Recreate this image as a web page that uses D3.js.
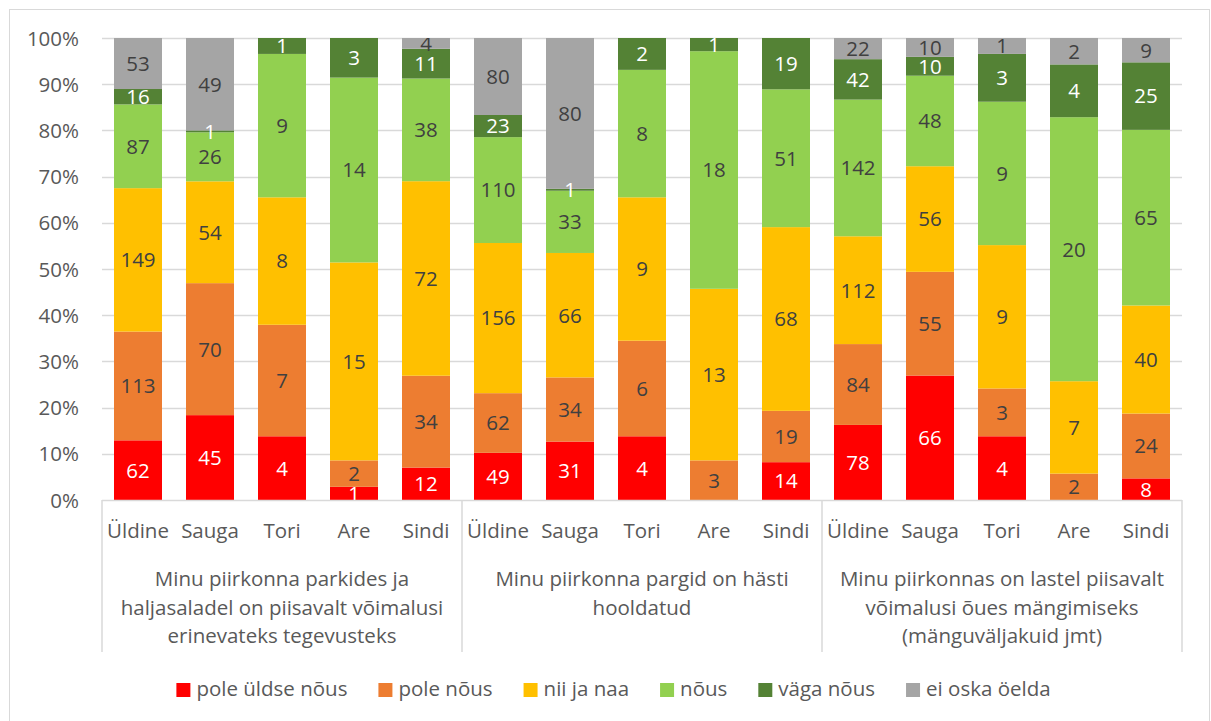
<!DOCTYPE html>
<html>
<head>
<meta charset="utf-8">
<script src="https://cdn.jsdelivr.net/npm/d3@7"></script>
<style>
  html, body { margin: 0; padding: 0; background: #fff; }
  svg { display: block; font-family: "Open Sans", sans-serif; }
</style>
</head>
<body>
<svg id="chart" width="1211" height="721"></svg>
<script>
// ---- data ----
const categories = ["Üldine","Sauga","Tori","Are","Sindi","Üldine","Sauga","Tori","Are","Sindi","Üldine","Sauga","Tori","Are","Sindi"];
const groupLabels = [
  ["Minu piirkonna parkides ja", "haljasaladel on piisavalt võimalusi", "erinevateks tegevusteks"],
  ["Minu piirkonna pargid on hästi", "hooldatud"],
  ["Minu piirkonnas on lastel piisavalt", "võimalusi õues mängimiseks", "(mänguväljakuid jmt)"]
];
const seriesNames = ["pole üldse nõus","pole nõus","nii ja naa","nõus","väga nõus","ei oska öelda"];
const poleYldseNous = [62,45,4,1,12, 49,31,4,0,14, 78,66,4,0,8];
const poleNous      = [113,70,7,2,34, 62,34,6,3,19, 84,55,3,2,24];
const niiJaNaa      = [149,54,8,15,72, 156,66,9,13,68, 112,56,9,7,40];
const nous          = [87,26,9,14,38, 110,33,8,18,51, 142,48,9,20,65];
const vagaNous      = [16,1,1,3,11, 23,1,2,1,19, 42,10,3,4,25];
const eiOskaOelda   = [53,49,0,0,4, 80,80,0,0,0, 22,10,1,2,9];
const yTicks = [0,0.1,0.2,0.3,0.4,0.5,0.6,0.7,0.8,0.9,1];

const seriesValues = [poleYldseNous, poleNous, niiJaNaa, nous, vagaNous, eiOskaOelda];
const colors = ["#FF0000","#ED7D31","#FFC000","#92D050","#548235","#A5A5A5"];
const labelColors = ["#ffffff","#404040","#404040","#404040","#ffffff","#404040"];
const FS = 20.5;

// ---- build table ----
const rows = categories.map((c, i) => {
  const r = { idx: i };
  seriesNames.forEach((s, k) => r[s] = seriesValues[k][i]);
  return r;
});
const stacked = d3.stack().keys(seriesNames).offset(d3.stackOffsetExpand)(rows);

const svg = d3.select("#chart");
const plot = { left: 102, right: 1182, top: 38, bottom: 500 };

// outer border
svg.append("rect").attr("x", 9.5).attr("y", 9.5).attr("width", 1200).attr("height", 720)
  .attr("fill", "none").attr("stroke", "#d9d9d9").attr("stroke-width", 1);

const x = d3.scaleBand().domain(d3.range(categories.length)).range([plot.left, plot.right])
  .paddingInner(1/3).paddingOuter(1/6);
const y = d3.scaleLinear().domain([0, 1]).range([plot.bottom, plot.top]);

// gridlines
svg.append("g").selectAll("line").data(yTicks.filter(t => t > 0)).join("line")
  .attr("x1", plot.left).attr("x2", plot.right)
  .attr("y1", d => Math.round(y(d)) + 0.5).attr("y2", d => Math.round(y(d)) + 0.5)
  .attr("stroke", "#d9d9d9").attr("stroke-width", 1.3);

// y axis labels
const yAxis = d3.axisLeft(y).tickValues(yTicks).tickFormat(d3.format(".0%")).tickSize(0).tickPadding(0);
const yg = svg.append("g").attr("transform", `translate(79,0)`).call(yAxis);
yg.select(".domain").remove();
yg.selectAll("text").attr("fill", "#595959").attr("font-size", FS)
  .attr("font-family", "Open Sans, sans-serif").attr("dy", "0.35em");

// bars
const barG = svg.append("g");
stacked.forEach((layer, k) => {
  barG.append("g").selectAll("rect").data(layer).join("rect")
    .attr("x", (d, i) => x(i))
    .attr("width", x.bandwidth())
    .attr("y", d => y(d[1]))
    .attr("height", d => y(d[0]) - y(d[1]))
    .attr("fill", colors[k]);
});

// clip for labels
svg.append("clipPath").attr("id", "plotclip").append("rect")
  .attr("x", plot.left).attr("y", plot.top).attr("width", plot.right - plot.left).attr("height", plot.bottom - plot.top);

const labG = svg.append("g").attr("clip-path", "url(#plotclip)");
stacked.forEach((layer, k) => {
  labG.append("g").selectAll("text").data(layer.filter((d, i) => seriesValues[k][d.data.idx] > 0)).join("text")
    .attr("x", d => x(d.data.idx) + x.bandwidth() / 2)
    .attr("y", d => (y(d[0]) + y(d[1])) / 2)
    .attr("dy", "0.36em")
    .attr("text-anchor", "middle")
    .attr("font-size", FS)
    .attr("fill", labelColors[k])
    .text(d => seriesValues[k][d.data.idx]);
});

// category axis
const axG = svg.append("g");
axG.append("line").attr("x1", plot.left).attr("x2", plot.right)
  .attr("y1", plot.bottom + 0.5).attr("y2", plot.bottom + 0.5)
  .attr("stroke", "#d9d9d9").attr("stroke-width", 1.5);
const sepIdx = [0, 5, 10, 15];
axG.selectAll("line.sep").data(sepIdx).join("line").attr("class", "sep")
  .attr("x1", d => d < 15 ? x(d) - x.step() * x.paddingInner() / 2 : plot.right)
  .attr("x2", d => d < 15 ? x(d) - x.step() * x.paddingInner() / 2 : plot.right)
  .attr("y1", plot.bottom).attr("y2", 652)
  .attr("stroke", "#d9d9d9").attr("stroke-width", 1.5);

axG.selectAll("text.cat").data(categories).join("text").attr("class", "cat")
  .attr("x", (d, i) => x(i) + x.bandwidth() / 2)
  .attr("y", 538)
  .attr("text-anchor", "middle")
  .attr("font-size", FS)
  .attr("fill", "#595959")
  .text(d => d);

groupLabels.forEach((lines, g) => {
  const cx = (x(g * 5) + x(g * 5 + 4) + x.bandwidth()) / 2;
  const t = axG.append("text").attr("text-anchor", "middle").attr("font-size", FS).attr("fill", "#595959");
  lines.forEach((ln, j) => {
    t.append("tspan").attr("x", cx).attr("y", 586 + j * 28.6).text(ln);
  });
});

// legend
const leg = svg.append("g");
const items = leg.selectAll("g").data(seriesNames).join("g");
items.append("rect").attr("width", 14).attr("height", 14).attr("y", 683).attr("fill", (d, i) => colors[i]);
items.append("text").attr("x", 20).attr("y", 696).attr("font-size", FS).attr("fill", "#595959").text(d => d);
let widths = [];
items.each(function() { widths.push(20 + d3.select(this).select("text").node().getComputedTextLength()); });
const gap = 31;
const total = d3.sum(widths) + gap * (widths.length - 1);
let cur = 613.5 - total / 2;
items.each(function(d, i) {
  d3.select(this).attr("transform", `translate(${cur},0)`);
  cur += widths[i] + gap;
});
</script>
</body>
</html>
